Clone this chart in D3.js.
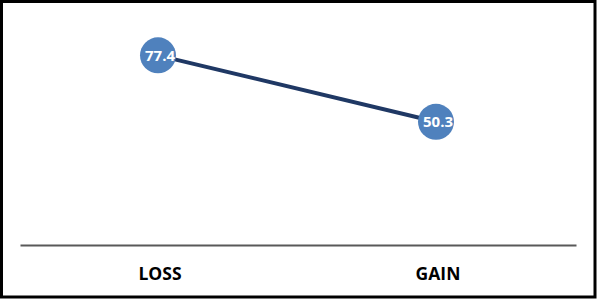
<!DOCTYPE html>
<html><head><meta charset="utf-8">
<script src="https://cdn.jsdelivr.net/npm/d3@7"></script>
<style>html,body{margin:0;padding:0;background:#fff;}</style>
</head><body>
<script>
const categories = ["LOSS", "GAIN"];
const values = [77.4, 50.3];

const W = 597, H = 299;
const svg = d3.select("body").append("svg").attr("width", W).attr("height", H);
svg.append("rect").attr("x", 1.5).attr("y", 1.5).attr("width", W - 3.5).attr("height", H - 3.5)
  .attr("fill", "#fff").attr("stroke", "#000").attr("stroke-width", 3);

const x = d3.scaleBand().domain(categories).range([20, 576]);
const y = d3.scaleLinear().domain([0, 100]).range([245, 0]);

const axis = svg.append("g").attr("transform", "translate(0,245)")
  .call(d3.axisBottom(x).tickSize(0).tickPadding(18));
axis.select(".domain").attr("stroke", "#595959").attr("stroke-width", 2);
axis.selectAll("text").attr("font-family", "Open Sans, sans-serif").attr("font-weight", "bold")
  .attr("font-size", 17.5).attr("fill", "#000").attr("y", 35).attr("dy", 0)
  .attr("transform", "translate(1,0)");

const cx = d => x(d) + x.bandwidth() / 2 - 1;
const line = d3.line().x((d, i) => cx(categories[i])).y(d => y(d));
svg.append("path").datum(values).attr("d", line).attr("fill", "none")
  .attr("stroke", "#1f3864").attr("stroke-width", 4);

svg.selectAll("circle.pt").data(values).join("circle").attr("class", "pt")
  .attr("cx", (d, i) => cx(categories[i])).attr("cy", d => y(d)).attr("r", 18)
  .attr("fill", "#4f81bd");

svg.selectAll("text.lbl").data(values).join("text").attr("class", "lbl")
  .attr("x", (d, i) => cx(categories[i]) + 2).attr("y", d => y(d)).attr("dy", "0.36em")
  .attr("text-anchor", "middle").attr("font-family", "Open Sans, sans-serif")
  .attr("font-weight", "bold").attr("font-size", 15).attr("fill", "#fff")
  .text(d => d.toFixed(1));
</script>
</body></html>
